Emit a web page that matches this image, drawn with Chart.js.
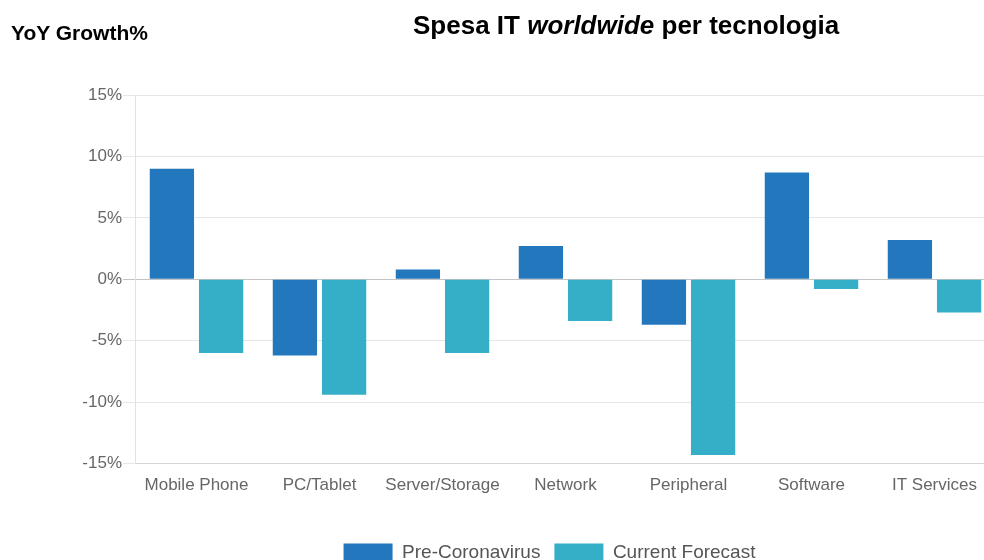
<!DOCTYPE html>
<html>
<head>
<meta charset="utf-8">
<script src="https://cdn.jsdelivr.net/npm/chart.js@4/dist/chart.umd.min.js"></script>
<style>
    html, body { margin: 0; padding: 0; background: #fff; }
    #wrap { position: relative; width: 984px; height: 560px; overflow: hidden; }
    #chart-box { position: absolute; left: 0; top: 0; width: 996px; height: 572px; }
    .lbl { position: absolute; font-family: "Liberation Sans", Arial, sans-serif; font-weight: bold; color: #000; white-space: nowrap; }
    #ytitle { left: 11px; top: 22px; font-size: 21px; line-height: 21px; }
    #title { left: 413px; top: 12px; font-size: 26px; line-height: 26px; }
</style>
</head>
<body>
<div id="wrap">
    <div id="chart-box"><canvas id="itChart" width="996" height="572"></canvas></div>
    <div class="lbl" id="ytitle">YoY Growth%</div>
    <div class="lbl" id="title">Spesa IT <i>worldwide</i> per tecnologia</div>
</div>
<script>
// categorie e valori (% crescita anno su anno)
const categories = ['Mobile Phone', 'PC/Tablet', 'Server/Storage', 'Network', 'Peripheral', 'Software', 'IT Services'];
const preCoronavirus = [9.0, -6.2, 0.8, 2.7, -3.7, 8.7, 3.2];
const currentForecast = [-6.0, -9.4, -6.0, -3.4, -14.3, -0.8, -2.7];
const seriesNames = ['Pre-Coronavirus', 'Current Forecast'];
const yTicks = [-15, -10, -5, 0, 5, 10, 15];

const FONT = "Liberation Sans";

// sposta la legenda un po' a sinistra (come nell'originale)
const legendShift = {
    id: 'legendShift',
    afterLayout: chart => {
        const lg = chart.legend;
        lg.left -= 16;
        lg.right -= 16;
    }
};

const ctx = document.getElementById('itChart').getContext('2d');
new Chart(ctx, {
    type: 'bar',
    data: {
        labels: categories,
        datasets: [{
            label: seriesNames[0],
            data: preCoronavirus,
            backgroundColor: '#2277bd',
            borderWidth: 0
        }, {
            label: seriesNames[1],
            data: currentForecast,
            backgroundColor: '#35aec7',
            borderWidth: 0
        }]
    },
    options: {
        responsive: false,
        animation: false,
        layout: { padding: { top: 95, left: 0, right: 0, bottom: 0 } },
        datasets: {
            bar: { categoryPercentage: 0.8, barPercentage: 0.9 }
        },
        plugins: {
            legend: {
                position: 'bottom',
                fullSize: false,
                labels: {
                    boxWidth: 49,
                    boxHeight: 18,
                    padding: 14,
                    color: '#555',
                    font: { family: FONT, size: 19 }
                }
            },
            tooltip: { enabled: false }
        },
        scales: {
            x: {
                grid: { display: false },
                border: { display: true, color: '#d6d6d6' },
                ticks: {
                    padding: 4,
                    color: '#666',
                    maxRotation: 0,
                    font: { family: FONT, size: 17 }
                },
                afterFit: scale => { scale.height = 65.5; }
            },
            y: {
                min: -15,
                max: 15,
                afterBuildTicks: scale => { scale.ticks = yTicks.map(v => ({ value: v })); },
                afterFit: scale => { scale.width = 135; },
                grid: {
                    tickLength: 12,
                    color: c => (c.tick && c.tick.value === 0) ? '#c4c4c4' : '#e6e6e6'
                },
                border: { display: true, color: '#e2e2e2' },
                ticks: {
                    padding: 1,
                    color: '#666',
                    font: { family: FONT, size: 17 },
                    callback: v => v + '%'
                }
            }
        }
    },
    plugins: [legendShift]
});
</script>
</body>
</html>
